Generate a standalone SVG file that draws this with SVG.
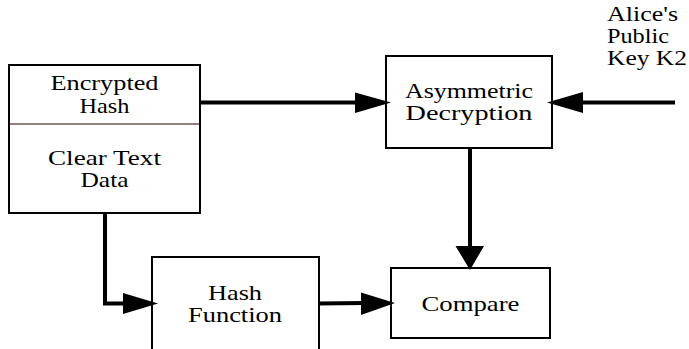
<svg xmlns="http://www.w3.org/2000/svg" width="689" height="349" viewBox="0 0 689 349">
  <style>
    .box { fill: #ffffff; stroke: #000000; stroke-width: 2; }
    .divider { stroke: #2a0000; stroke-width: 1.2; }
    .label { font-family: "Liberation Serif", "Times New Roman", serif; font-size: 21px; fill: #000000; }
    .tight { font-size: 20px; }
    .mid { text-anchor: middle; }
    .wire { fill: none; stroke: #000000; stroke-width: 4; }
    .head { fill: #000000; stroke: none; }
  </style>
  <rect width="689" height="349" fill="#ffffff"/>

  <!-- signed message: encrypted hash over clear text data -->
  <g id="message">
    <rect class="box" x="9" y="65" width="191" height="148"/>
    <line class="divider" x1="9" y1="124" x2="200" y2="124"/>
    <text class="label mid" x="104.5" y="90" textLength="108" lengthAdjust="spacingAndGlyphs">Encrypted</text>
    <text class="label mid" x="104.5" y="113" textLength="50" lengthAdjust="spacingAndGlyphs">Hash</text>
    <text class="label mid" x="104.5" y="165" textLength="113" lengthAdjust="spacingAndGlyphs">Clear Text</text>
    <text class="label mid" x="104.5" y="187" textLength="48" lengthAdjust="spacingAndGlyphs">Data</text>
  </g>

  <g id="asymmetric-decryption">
    <rect class="box" x="386" y="56" width="166" height="92"/>
    <text class="label tight mid" x="469" y="98" textLength="128" lengthAdjust="spacingAndGlyphs">Asymmetric</text>
    <text class="label tight mid" x="469" y="120" textLength="127" lengthAdjust="spacingAndGlyphs">Decryption</text>
  </g>

  <g id="public-key">
    <text class="label" x="607" y="21" textLength="71" lengthAdjust="spacingAndGlyphs">Alice's</text>
    <text class="label" x="607" y="43" textLength="62" lengthAdjust="spacingAndGlyphs">Public</text>
    <text class="label" x="607" y="65" textLength="80" lengthAdjust="spacingAndGlyphs">Key K2</text>
  </g>

  <g id="hash-function">
    <rect class="box" x="152" y="257" width="167" height="110"/>
    <text class="label mid" x="235" y="300" textLength="54" lengthAdjust="spacingAndGlyphs">Hash</text>
    <text class="label mid" x="235" y="322" textLength="94" lengthAdjust="spacingAndGlyphs">Function</text>
  </g>

  <g id="compare">
    <rect class="box" x="391" y="268" width="159" height="70"/>
    <text class="label mid" x="470.5" y="311" textLength="98" lengthAdjust="spacingAndGlyphs">Compare</text>
  </g>

  <g id="connectors">
    <!-- encrypted hash into decryption -->
    <line class="wire" x1="200" y1="102.5" x2="358" y2="102.5"/>
    <polygon class="head" points="355,92.5 391,102.5 355,113"/>
    <!-- public key into decryption -->
    <line class="wire" x1="675" y1="102.5" x2="580" y2="102.5"/>
    <polygon class="head" points="583,92 547,102.5 583,113"/>
    <!-- decrypted hash down to compare -->
    <line class="wire" x1="470" y1="148" x2="470" y2="248"/>
    <polygon class="head" points="455.5,246 484,246 470,270"/>
    <!-- clear text data to hash function -->
    <polyline class="wire" points="105,213 105,303.5 125,303.5"/>
    <polygon class="head" points="123,293 158,303.5 123,314"/>
    <!-- computed hash to compare -->
    <line class="wire" x1="319" y1="303.5" x2="364" y2="303"/>
    <polygon class="head" points="361,292.5 395,303 361,315"/>
  </g>
</svg>
